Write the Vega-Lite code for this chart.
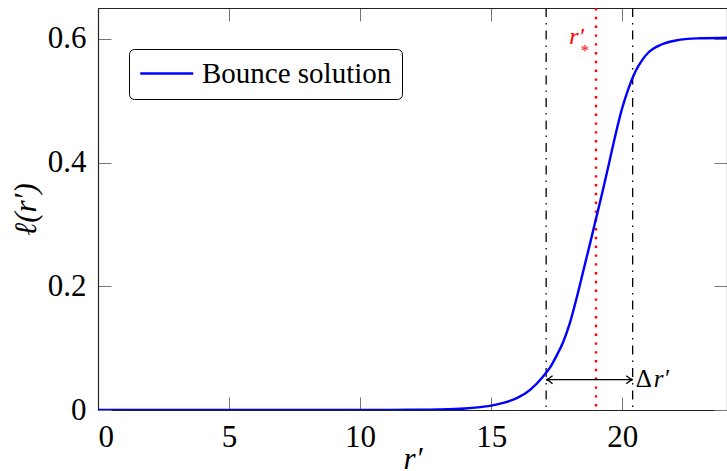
{
  "$schema": "https://vega.github.io/schema/vega-lite/v6.json",
  "width": 629,
  "height": 402,
  "autosize": {"type": "none"},
  "padding": {"left": 98, "top": 8, "right": 0, "bottom": 61},
  "config": {
    "view": {"stroke": null},
    "font": "Liberation Serif",
    "axis": {
      "grid": false,
      "domainColor": "#222222",
      "domainWidth": 1.2,
      "tickColor": "#777777",
      "tickWidth": 1,
      "tickSize": -13,
      "labelFont": "Liberation Serif",
      "labelFontSize": 31,
      "labelColor": "#000000",
      "titleFont": "Liberation Serif",
      "titleFontSize": 31,
      "titleFontWeight": "normal",
      "titleFontStyle": "italic",
      "titleColor": "#000000"
    }
  },
  "datasets": {
    "curve": [
      {"r": 0, "l": 0}, {"r": 5, "l": 0}, {"r": 8, "l": 0.00001}, {"r": 10, "l": 0.00004},
      {"r": 11, "l": 0.0001}, {"r": 12, "l": 0.0003}, {"r": 13, "l": 0.0008}, {"r": 14, "l": 0.0024},
      {"r": 14.5, "l": 0.0042}, {"r": 15, "l": 0.007}, {"r": 15.5, "l": 0.0118}, {"r": 16, "l": 0.0195},
      {"r": 16.5, "l": 0.033}, {"r": 17, "l": 0.055}, {"r": 17.25, "l": 0.069}, {"r": 17.5, "l": 0.088},
      {"r": 17.75, "l": 0.11}, {"r": 18, "l": 0.14}, {"r": 18.25, "l": 0.179}, {"r": 18.5, "l": 0.222},
      {"r": 18.75, "l": 0.265}, {"r": 19, "l": 0.309}, {"r": 19.25, "l": 0.353}, {"r": 19.5, "l": 0.399},
      {"r": 19.75, "l": 0.446}, {"r": 20, "l": 0.488}, {"r": 20.25, "l": 0.521}, {"r": 20.5, "l": 0.547},
      {"r": 20.75, "l": 0.565}, {"r": 21, "l": 0.578}, {"r": 21.5, "l": 0.591}, {"r": 22, "l": 0.597},
      {"r": 22.5, "l": 0.6}, {"r": 23, "l": 0.601}, {"r": 24, "l": 0.602}
    ],
    "bounds": [{"r": 17.1}, {"r": 20.4}],
    "star": [{"r": 19, "l": 0.591}],
    "arrow": [{"r1": 17.1, "r2": 20.4, "l": 0.049}]
  },
  "layer": [
    {
      "data": {"name": "bounds"},
      "mark": {"type": "rule", "color": "#000000", "strokeWidth": 1.3, "strokeDash": [9, 6, 1.5, 6]},
      "encoding": {"x": {"field": "r", "type": "quantitative", "axis": null}}
    },
    {
      "data": {"name": "star"},
      "mark": {"type": "rule", "color": "#ff0000", "strokeWidth": 2.4, "strokeDash": [2.4, 6.4]},
      "encoding": {"x": {"field": "r", "type": "quantitative", "axis": null}}
    },
    {
      "data": {"name": "arrow"},
      "mark": {"type": "rule", "color": "#000000", "strokeWidth": 1.3},
      "encoding": {
        "x": {"field": "r1", "type": "quantitative", "axis": null},
        "x2": {"field": "r2"},
        "y": {"field": "l", "type": "quantitative", "axis": null}
      }
    },
    {
      "data": {"name": "arrow"},
      "mark": {"type": "point", "filled": false, "stroke": "#000000", "strokeWidth": 1.3, "opacity": 1, "size": 64, "shape": "M 1.6 -1 Q 0.6 -0.15 0 0 Q 0.6 0.15 1.6 1"},
      "encoding": {
        "x": {"field": "r1", "type": "quantitative", "axis": null},
        "y": {"field": "l", "type": "quantitative", "axis": null}
      }
    },
    {
      "data": {"name": "arrow"},
      "mark": {"type": "point", "filled": false, "stroke": "#000000", "strokeWidth": 1.3, "opacity": 1, "size": 64, "shape": "M -1.6 -1 Q -0.6 -0.15 0 0 Q -0.6 0.15 -1.6 1"},
      "encoding": {
        "x": {"field": "r2", "type": "quantitative", "axis": null},
        "y": {"field": "l", "type": "quantitative", "axis": null}
      }
    },
    {
      "data": {"name": "arrow"},
      "mark": {"type": "text", "text": "Δ", "align": "left", "baseline": "alphabetic", "dx": 3, "dy": 7, "fontSize": 25, "font": "Liberation Serif", "color": "#000000"},
      "encoding": {
        "x": {"field": "r2", "type": "quantitative", "axis": null},
        "y": {"field": "l", "type": "quantitative", "axis": null}
      }
    },
    {
      "data": {"name": "arrow"},
      "mark": {"type": "text", "text": "r′", "align": "left", "baseline": "alphabetic", "dx": 21, "dy": 7, "fontSize": 25, "fontStyle": "italic", "font": "Liberation Serif", "color": "#000000"},
      "encoding": {
        "x": {"field": "r2", "type": "quantitative", "axis": null},
        "y": {"field": "l", "type": "quantitative", "axis": null}
      }
    },
    {
      "data": {"name": "star"},
      "mark": {"type": "text", "text": "r′", "align": "right", "baseline": "alphabetic", "dx": -12, "dy": 0, "fontSize": 24, "fontStyle": "italic", "font": "Liberation Serif", "color": "#ff0000"},
      "encoding": {
        "x": {"field": "r", "type": "quantitative", "axis": null},
        "y": {"field": "l", "type": "quantitative", "axis": null}
      }
    },
    {
      "data": {"name": "star"},
      "mark": {"type": "text", "text": "*", "align": "center", "baseline": "alphabetic", "dx": -11, "dy": 12, "fontSize": 17, "font": "Liberation Serif", "color": "#ff0000"},
      "encoding": {
        "x": {"field": "r", "type": "quantitative", "axis": null},
        "y": {"field": "l", "type": "quantitative", "axis": null}
      }
    },
    {
      "data": {"name": "curve"},
      "mark": {"type": "line", "strokeWidth": 2.4, "interpolate": "monotone", "clip": true},
      "encoding": {
        "x": {
          "field": "r", "type": "quantitative",
          "scale": {"domain": [0, 24], "nice": false, "zero": false},
          "axis": {"orient": "bottom", "title": "r′", "values": [0, 5, 10, 15, 20], "labelPadding": 25, "titleY": 58, "titleBaseline": "alphabetic"}
        },
        "y": {
          "field": "l", "type": "quantitative",
          "scale": {"domain": [0, 0.65], "nice": false, "zero": true},
          "axis": {"orient": "left", "title": "ℓ(r′)", "values": [0, 0.2, 0.4, 0.6], "labelExpr": "datum.value == 0 ? '0' : format(datum.value, '.1f')", "labelPadding": 25, "titleX": -72, "titleY": 201, "titleBaseline": "middle"}
        },
        "color": {
          "datum": "Bounce solution",
          "scale": {"domain": ["Bounce solution"], "range": ["#0000ff"]},
          "legend": {
            "orient": "none", "legendX": 31, "legendY": 41, "title": null,
            "symbolType": "M -1 0 L 3 0", "symbolSize": 702, "symbolStrokeWidth": 2.4,
            "labelFont": "Liberation Serif", "labelFontSize": 29, "labelColor": "#000000", "labelOffset": 34, "labelLimit": 400,
            "padding": 10, "strokeColor": "#000000", "cornerRadius": 5, "fillColor": "#ffffff"
          }
        }
      }
    },
    {
      "data": {"name": "curve"},
      "mark": {"type": "point", "opacity": 0},
      "encoding": {
        "x": {"field": "r", "type": "quantitative", "axis": {"orient": "top", "title": null, "labels": false, "values": [0, 5, 10, 15, 20]}},
        "y": {"field": "l", "type": "quantitative", "axis": {"orient": "right", "title": null, "labels": false, "values": [0, 0.2, 0.4, 0.6]}}
      }
    }
  ],
  "resolve": {"axis": {"x": "independent", "y": "independent"}}
}
